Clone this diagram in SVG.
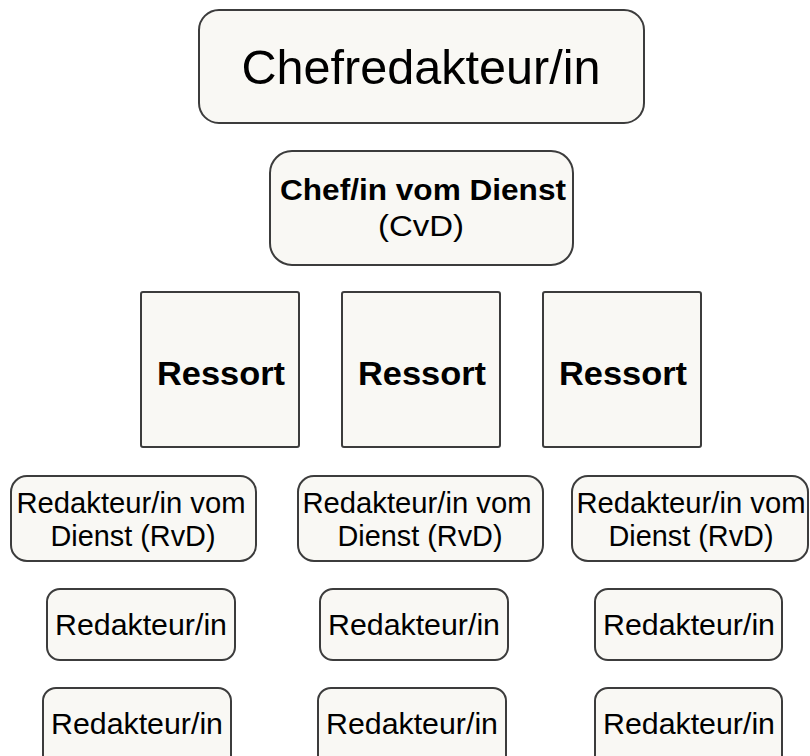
<svg xmlns="http://www.w3.org/2000/svg" width="810" height="756" viewBox="0 0 810 756">
<style>
.box{fill:#f9f8f4;stroke:#3c3c3c;stroke-width:2}
text{font-family:"Liberation Sans",Arial,sans-serif;fill:#000;text-anchor:middle}
.big{font-size:49px}
.cvd{font-size:29px;font-weight:bold}
.cvd2{font-size:29px}
.res{font-size:34px;font-weight:bold}
.sm{font-size:30px}
</style>
<rect width="810" height="756" fill="#fff"/>
<g id="chef">
<rect class="box" x="199" y="10" width="445" height="113" rx="20"/>
<text class="big" x="421" y="84" textLength="359" lengthAdjust="spacingAndGlyphs">Chefredakteur/in</text>
</g>
<g id="cvd">
<rect class="box" x="270" y="151" width="303" height="114" rx="22"/>
<text class="cvd" x="423" y="200" textLength="286" lengthAdjust="spacingAndGlyphs">Chef/in vom Dienst</text>
<text class="cvd2" x="421" y="236" textLength="86" lengthAdjust="spacingAndGlyphs">(CvD)</text>
</g>
<g id="ressort1">
<rect class="box" x="141" y="292" width="158" height="155" rx="2"/>
<text class="res" x="221" y="385" textLength="128" lengthAdjust="spacingAndGlyphs">Ressort</text>
</g>
<g id="ressort2">
<rect class="box" x="342" y="292" width="158" height="155" rx="2"/>
<text class="res" x="422" y="385" textLength="128" lengthAdjust="spacingAndGlyphs">Ressort</text>
</g>
<g id="ressort3">
<rect class="box" x="543" y="292" width="158" height="155" rx="2"/>
<text class="res" x="623" y="385" textLength="128" lengthAdjust="spacingAndGlyphs">Ressort</text>
</g>
<g id="rvd1">
<rect class="box" x="11" y="476" width="245" height="85" rx="16"/>
<text class="sm" x="131" y="513" textLength="229" lengthAdjust="spacingAndGlyphs">Redakteur/in vom</text>
<text class="sm" x="133" y="546" textLength="165" lengthAdjust="spacingAndGlyphs">Dienst (RvD)</text>
</g>
<g id="rvd2">
<rect class="box" x="298" y="476" width="245" height="85" rx="16"/>
<text class="sm" x="417" y="513" textLength="229" lengthAdjust="spacingAndGlyphs">Redakteur/in vom</text>
<text class="sm" x="420" y="546" textLength="165" lengthAdjust="spacingAndGlyphs">Dienst (RvD)</text>
</g>
<g id="rvd3">
<rect class="box" x="572" y="476" width="236" height="85" rx="16"/>
<text class="sm" x="691" y="513" textLength="229" lengthAdjust="spacingAndGlyphs">Redakteur/in vom</text>
<text class="sm" x="691" y="546" textLength="165" lengthAdjust="spacingAndGlyphs">Dienst (RvD)</text>
</g>
<g id="red1a">
<rect class="box" x="47" y="589" width="188" height="71" rx="13"/>
<text class="sm" x="141" y="635" textLength="172" lengthAdjust="spacingAndGlyphs">Redakteur/in</text>
</g>
<g id="red2a">
<rect class="box" x="320" y="589" width="188" height="71" rx="13"/>
<text class="sm" x="414" y="635" textLength="172" lengthAdjust="spacingAndGlyphs">Redakteur/in</text>
</g>
<g id="red3a">
<rect class="box" x="595" y="589" width="187" height="71" rx="13"/>
<text class="sm" x="689" y="635" textLength="172" lengthAdjust="spacingAndGlyphs">Redakteur/in</text>
</g>
<g id="red1b">
<rect class="box" x="43" y="688" width="188" height="80" rx="13"/>
<text class="sm" x="137" y="734" textLength="172" lengthAdjust="spacingAndGlyphs">Redakteur/in</text>
</g>
<g id="red2b">
<rect class="box" x="318" y="688" width="188" height="80" rx="13"/>
<text class="sm" x="412" y="734" textLength="172" lengthAdjust="spacingAndGlyphs">Redakteur/in</text>
</g>
<g id="red3b">
<rect class="box" x="595" y="688" width="187" height="80" rx="13"/>
<text class="sm" x="689" y="734" textLength="172" lengthAdjust="spacingAndGlyphs">Redakteur/in</text>
</g>
<g id="connectors"></g>
</svg>
